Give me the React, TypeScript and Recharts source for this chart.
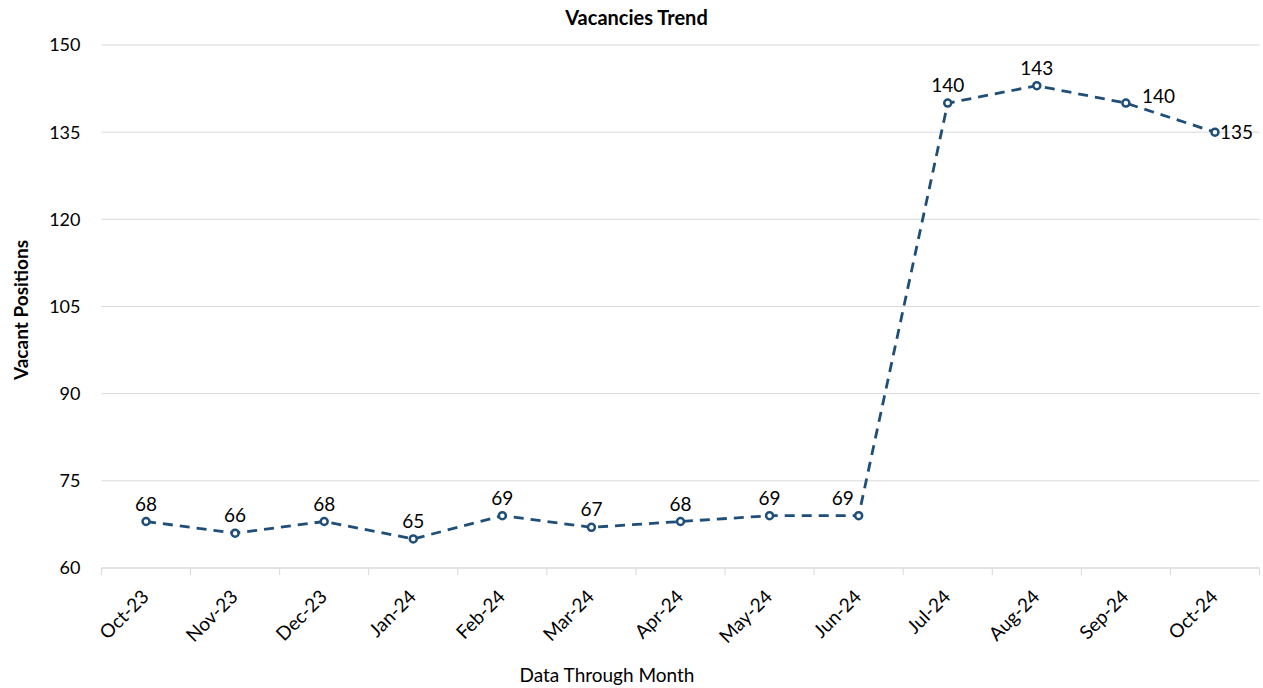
import React from 'react';
import { LineChart, Line, XAxis, YAxis, CartesianGrid, LabelList } from 'recharts';

const months = ['Oct-23', 'Nov-23', 'Dec-23', 'Jan-24', 'Feb-24', 'Mar-24', 'Apr-24', 'May-24', 'Jun-24', 'Jul-24', 'Aug-24', 'Sep-24', 'Oct-24'];
const vacancies = [68, 66, 68, 65, 69, 67, 68, 69, 69, 140, 143, 140, 135];
const yTicks = [60, 75, 90, 105, 120, 135, 150];

const W = 1263;
const H = 688;
const PLOT_LEFT = 101.5;
const PLOT_RIGHT = 1259.5;
const BAND = (PLOT_RIGHT - PLOT_LEFT) / months.length;
const FONT = 'Lato, "Liberation Sans", sans-serif';
const LINE_COLOR = '#1f4e79';

const data = months.map((m, i) => ({ month: m, value: vacancies[i] }));

const MonthTick = (props: any) => {
    const { x, y, payload, index } = props;
    const isLast = index === months.length - 1;
    const ax = x + 4;
    const ay = y + 30;
    return (
        <g>
            <line x1={x - BAND / 2} y1={y} x2={x - BAND / 2} y2={y + 7} stroke="#d9d9d9" />
            {isLast && <line x1={x + BAND / 2} y1={y} x2={x + BAND / 2} y2={y + 7} stroke="#d9d9d9" />}
            <text
                x={ax}
                y={ay}
                transform={`rotate(-45 ${ax} ${ay})`}
                textAnchor="end"
                fontSize={19}
                fontFamily={FONT}
                fill="#000"
            >
                {payload.value}
            </text>
        </g>
    );
};

// Excel-style labels: above the point, a couple nudged by hand
const ValueLabel = (props: any) => {
    const { x, y, value, index } = props;
    if (index === 11 || index === 12) {
        const dx = index === 11 ? 16 : 5;
        const dy = index === 11 ? -7 : 0;
        return (
            <text x={x + dx} y={y + dy + 7} textAnchor="start" fontSize={19} fontFamily={FONT} fill="#000">
                {value}
            </text>
        );
    }
    const dx = index === 8 ? -16 : 0;
    return (
        <text x={x + dx} y={y - 11} textAnchor="middle" fontSize={19} fontFamily={FONT} fill="#000">
            {value}
        </text>
    );
};

export default function App() {
    return (
        <div style={{ position: 'absolute', left: 0, top: 0, width: W, height: H, background: '#fff', fontFamily: FONT }}>
            <div style={{ position: 'absolute', top: 5, left: 0, width: 1273, textAlign: 'center', fontSize: 20, fontWeight: 700 }}>
                Vacancies Trend
            </div>
            <div
                style={{
                    position: 'absolute',
                    left: 20,
                    top: 310,
                    transform: 'translate(-50%, -50%) rotate(-90deg)',
                    fontSize: 19,
                    fontWeight: 700,
                    whiteSpace: 'nowrap',
                }}
            >
                Vacant Positions
            </div>
            <div style={{ position: 'absolute', top: 663, left: 0, width: 1214, textAlign: 'center', fontSize: 19 }}>
                Data Through Month
            </div>
            <LineChart
                width={W}
                height={H}
                data={data}
                margin={{ top: 45, right: W - PLOT_RIGHT, left: 0, bottom: 0 }}
                style={{ position: 'absolute', left: 0, top: 0 }}
            >
                <CartesianGrid vertical={false} stroke="#d9d9d9" />
                <XAxis
                    dataKey="month"
                    height={120}
                    interval={0}
                    padding={{ left: BAND / 2, right: BAND / 2 }}
                    tickLine={false}
                    tickSize={0}
                    tickMargin={0}
                    stroke="#d9d9d9"
                    tick={<MonthTick />}
                />
                <YAxis
                    width={PLOT_LEFT}
                    domain={[60, 150]}
                    ticks={yTicks}
                    axisLine={false}
                    tickLine={false}
                    tickSize={0}
                    tickMargin={21}
                    tick={{ fill: '#000', fontSize: 18, fontFamily: FONT }}
                />
                <Line
                    type="linear"
                    dataKey="value"
                    stroke={LINE_COLOR}
                    strokeWidth={2.8}
                    strokeDasharray="10 7"
                    dot={{ r: 3.5, stroke: LINE_COLOR, strokeWidth: 2.5, fill: '#fff', strokeDasharray: '' }}
                    isAnimationActive={false}
                >
                    <LabelList dataKey="value" content={<ValueLabel />} />
                </Line>
            </LineChart>
        </div>
    );
}
